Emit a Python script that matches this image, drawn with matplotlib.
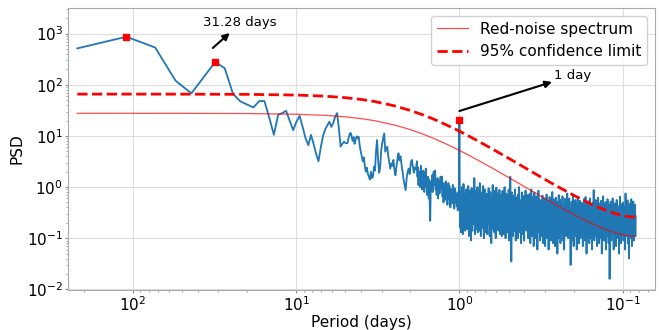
import numpy as np
import matplotlib
matplotlib.use("Agg")
import matplotlib.pyplot as plt

# ---------------- data ----------------
record_length_days = 219.0
harmonics_low = np.arange(1, 45)
psd_low = [515, 870, 535, 120, 68, 147, 280, 210, 66, 47,
           41, 36, 48, 48, 22.6, 10.5, 26, 28, 31, 20,
           13, 19, 24.6, 15, 9, 6.6, 10.5, 7, 4.5, 3.2,
           6, 10, 13.5, 16, 19, 15, 18, 24, 28, 14,
           6.2, 7, 7.7, 7.2]

# periods 4.85 -> 1.85 days
psd_mid_a = [7.2, 9.0, 10.5, 11.5, 10.0, 8.0, 9.5, 7.0, 8.5, 9.8,
             9.0, 9.6, 6.5, 5.0, 4.0, 3.2, 3.8, 2.6, 2.0, 2.4,
             1.8, 1.6, 1.4, 2.0, 1.5, 1.6, 2.5, 2.1, 5.0, 8.3,
             3.5, 1.9, 2.4, 5.0, 7.2, 9.0, 11.2, 4.9, 5.5, 6.2,
             4.0, 3.0, 2.3, 2.9, 2.6, 3.4, 2.2, 1.7, 2.5, 3.6,
             4.6, 3.3, 4.0, 2.7, 2.0, 1.4, 1.1, 0.87, 1.5, 2.0,
             2.3, 1.8, 2.9, 3.4, 2.6, 1.9, 2.4, 2.2]

# periods 1.82 -> 1.01 days
psd_mid_b = [3.2, 1.6, 2.4, 1.1, 2.0, 1.4, 1.0, 1.8, 2.6, 1.5,
             0.9, 1.7, 1.2, 2.1, 1.5, 0.8, 1.9, 1.3, 2.3, 1.0,
             1.2, 0.7, 1.6, 1.1, 0.6, 1.4, 0.45, 0.22, 0.9, 1.3,
             1.0, 1.7, 0.8, 1.4, 2.0, 1.1, 1.6, 2.1, 0.9, 1.3,
             0.7, 1.2, 1.5, 0.6, 0.87, 1.3, 0.75, 1.1, 1.6, 0.9,
             1.4, 1.6, 0.65, 1.0, 0.5, 1.2, 0.8, 0.56, 0.95, 1.3,
             0.7, 1.0, 0.45, 0.85, 1.2, 0.6, 1.05, 0.75, 0.4, 0.9,
             0.65, 0.48, 0.8, 1.1, 0.55, 0.7, 0.38, 0.95, 0.87, 0.5,
             0.75, 0.42, 0.6, 0.35, 0.8, 0.55]

spike_period = 1.0
spike_psd = 20.5

# periods 0.995 -> 0.0833 days
psd_high = [
    0.58, 0.16, 0.80, 0.36, 0.13, 0.45, 1.00, 0.25, 0.65, 0.12,
    0.40, 1.15, 0.31, 0.18, 0.72, 0.43, 0.14, 0.55, 0.27, 0.90,
    0.21, 0.49, 0.15, 0.75, 0.35, 1.05, 0.23, 0.11, 0.52, 0.30,
    0.86, 0.17, 0.61, 0.09, 0.39, 0.96, 0.26, 0.14, 0.68, 0.34,
    0.76, 0.19, 0.45, 1.50, 0.27, 0.12, 0.60, 0.36, 0.15, 0.85,
    0.42, 0.24, 1.00, 0.13, 0.51, 0.31, 0.71, 0.14, 0.37, 1.20,
    0.21, 0.55, 0.11, 0.46, 0.79, 0.26, 0.16, 0.62, 0.35, 1.05,
    0.20, 0.10, 0.49, 0.30, 0.90, 0.17, 0.57, 0.13, 0.40, 0.74,
    0.25, 0.12, 0.66, 0.39, 0.19, 0.95, 0.29, 0.54, 0.11, 0.44,
    0.80, 0.22, 0.34, 0.08, 0.61, 0.15, 0.47, 1.10, 0.27, 0.17,
    0.70, 0.37, 0.13, 0.84, 0.24, 0.51, 0.10, 0.41, 0.98, 0.31,
    0.16, 0.59, 0.26, 0.75, 0.14, 0.45, 0.21, 0.88, 0.35, 0.12,
    0.50, 0.19, 0.70, 0.29, 0.11, 0.44, 0.84, 0.16, 0.35, 0.61,
    0.12, 0.40, 1.00, 0.23, 0.54, 0.10, 0.32, 0.74, 0.18, 0.47,
    0.26, 0.13, 0.65, 0.36, 0.88, 0.20, 0.09, 0.53, 0.31, 1.60,
    0.24, 0.58, 0.035, 0.38, 0.79, 0.17, 0.48, 0.11, 0.68, 0.28,
    0.14, 0.53, 0.32, 0.90, 0.21, 0.09, 0.40, 0.63, 0.16, 0.47,
    0.25, 0.10, 0.72, 0.36, 0.20, 1.00, 0.29, 0.13, 0.55, 0.23,
    0.44, 0.08, 0.33, 0.79, 0.17, 0.49, 0.12, 0.39, 0.67, 0.22,
    0.09, 0.60, 0.30, 0.15, 0.86, 0.26, 0.46, 0.14, 0.35, 0.70,
    0.18, 0.41, 0.10, 0.55, 0.23, 0.73, 0.14, 0.33, 0.08, 0.48,
    0.28, 0.90, 0.17, 0.37, 0.11, 0.63, 0.21, 0.44, 0.07, 0.31,
    0.78, 0.15, 0.52, 0.24, 0.10, 0.40, 0.66, 0.20, 0.30, 0.06,
    0.46, 0.22, 0.85, 0.13, 0.36, 0.57, 0.18, 0.09, 0.43, 0.26,
    0.55, 0.11, 0.31, 0.18, 0.68, 0.26, 0.08, 0.41, 0.14, 0.35,
    0.60, 0.20, 0.07, 0.46, 0.24, 0.13, 0.72, 0.29, 0.10, 0.38,
    0.17, 0.53, 0.06, 0.32, 0.21, 0.64, 0.12, 0.43, 0.27, 0.09,
    0.49, 0.15, 0.36, 0.80, 0.19, 0.08, 0.40, 0.23, 0.58, 0.14,
    0.30, 0.07, 0.45, 0.19, 0.62, 0.12, 0.34, 0.24, 0.05, 0.51,
    0.16, 0.39, 0.70, 0.10, 0.28, 0.18, 0.57, 0.08, 0.36, 0.22,
    0.13, 0.48, 0.26, 0.66, 0.09, 0.31, 0.17, 0.42, 0.06, 0.25,
    0.59, 0.14, 0.37, 0.20, 0.11, 0.50, 0.29, 0.75, 0.15, 0.33,
    0.10, 0.44, 0.21, 0.60, 0.13, 0.32, 0.18, 0.03, 0.38, 0.24,
    0.52, 0.09, 0.29, 0.16, 0.67, 0.22, 0.07, 0.41, 0.14, 0.35,
    0.20, 0.56, 0.11, 0.27, 0.47, 0.06, 0.33, 0.17, 0.62, 0.12,
    0.30, 0.19, 0.08, 0.45, 0.25, 0.54, 0.10, 0.36, 0.15, 0.28,
    0.49, 0.12, 0.26, 0.07, 0.40, 0.18, 0.58, 0.14, 0.31, 0.09,
    0.22, 0.64, 0.16, 0.35, 0.05, 0.28, 0.46, 0.11, 0.20, 0.53,
    0.13, 0.37, 0.08, 0.24, 0.60, 0.17, 0.30, 0.10, 0.43, 0.19,
    0.06, 0.34, 0.21, 0.50, 0.12, 0.87, 0.23, 0.09, 0.39, 0.15,
    0.27, 0.56, 0.11, 0.33, 0.17, 0.07, 0.42, 0.21, 0.62, 0.13,
    0.29, 0.08, 0.48, 0.19, 0.36, 0.10, 0.25, 0.54, 0.15, 0.05,
    0.38, 0.22, 0.12, 0.66, 0.18, 0.31, 0.09, 0.44, 0.24, 0.14,
    0.51, 0.06, 0.28, 0.20, 0.40, 0.11, 0.58, 0.16, 0.34, 0.08,
    0.23, 0.45, 0.016, 0.30, 0.14, 0.52, 0.19, 0.09, 0.37, 0.25,
    0.12, 0.60, 0.17, 0.32, 0.06, 0.41, 0.21, 0.11, 0.48, 0.15,
    0.28, 0.07, 0.35, 0.56, 0.13, 0.24, 0.43, 0.10, 0.31, 0.18,
    0.05, 0.39, 0.22, 0.65, 0.14, 0.27, 0.08, 0.46, 0.20, 0.12,
    0.34, 0.17, 0.50, 0.09, 0.26, 0.13, 0.40, 0.21, 0.06, 0.75,
    0.19, 0.30, 0.11, 0.44, 0.15, 0.55, 0.08, 0.28, 0.18, 0.04,
    0.36, 0.14, 0.47, 0.23, 0.10, 0.32, 0.58, 0.16, 0.07, 0.39,
    0.20, 0.12, 0.52, 0.25, 0.09, 0.33, 0.17, 0.45, 0.11, 0.27,
]

# red-noise background and its 95% limit
rn_period = [219, 100, 50, 20, 10, 6.67, 5, 4, 3.33, 2.5, 2, 1.667, 1.429,
             1.176, 1.0, 0.870, 0.769, 0.625, 0.556, 0.5, 0.444, 0.4, 0.333,
             0.286, 0.25, 0.222, 0.2, 0.1667, 0.1429, 0.125, 0.1111, 0.1,
             0.0909, 0.0833]
rn_psd = [27.71, 27.70, 27.66, 27.41, 26.55, 25.24, 23.61, 21.80, 19.93,
          16.36, 13.30, 10.82, 8.88, 6.72, 5.21, 4.14, 3.35, 2.32, 1.87,
          1.54, 1.24, 1.02, 0.727, 0.548, 0.431, 0.350, 0.292, 0.217,
          0.173, 0.145, 0.128, 0.117, 0.111, 0.109]
conf95_psd = [65.7, 65.7, 65.6, 65.0, 63.0, 59.9, 56.0, 51.7, 47.3, 38.8,
              31.5, 25.7, 21.1, 15.9, 12.4, 9.81, 7.95, 5.50, 4.44, 3.66,
              2.94, 2.42, 1.72, 1.30, 1.02, 0.830, 0.693, 0.515, 0.410,
              0.344, 0.303, 0.277, 0.263, 0.258]

peak_period = [record_length_days / 2, record_length_days / 7, spike_period]
peak_psd = [870, 280, spike_psd]

# ---------------- assemble period grid ----------------
period_low = record_length_days / harmonics_low
period_mid_a = np.geomspace(4.85, 1.849, len(psd_mid_a))
period_mid_b = np.geomspace(1.82, 1.01, len(psd_mid_b))
period_high = np.geomspace(0.995, 0.0833, len(psd_high))
period = np.concatenate([period_low, period_mid_a, period_mid_b,
                         [spike_period], period_high])
psd = np.concatenate([psd_low, psd_mid_a, psd_mid_b, [spike_psd], psd_high])

# ---------------- plot ----------------
fig = plt.figure(figsize=(6.59, 3.30), dpi=100)
ax = fig.add_axes([0.103, 0.121, 0.891, 0.855])

ax.plot(period, psd, color="#1f77b4", lw=1.3, zorder=2)
ax.plot(rn_period, rn_psd, color="red", lw=0.9, alpha=0.7,
        label="Red-noise spectrum", zorder=3)
ax.plot(rn_period, conf95_psd, color="red", lw=2.0, ls="--",
        label="95% confidence limit", zorder=3)
ax.plot(peak_period, peak_psd, ls="none", marker="s", ms=5,
        color="red", zorder=4)

ax.set_xscale("log")
ax.set_yscale("log")
ax.set_xlim(250, 0.0634)
ax.set_ylim(10 ** -2.014, 10 ** 3.503)

ax.grid(True, which="major", color="#dddddd", lw=0.8)
for s in ax.spines.values():
    s.set_color("#aaaaaa")
ax.tick_params(which="major", length=2, width=0.8, pad=1.5,
               colors="#888888", labelcolor="black", labelsize=11)
ax.tick_params(which="minor", length=1.5, width=0.6, colors="#999999")

ax.set_xlabel("Period (days)", fontsize=11, labelpad=1)
ax.set_ylabel("PSD", fontsize=11, labelpad=2)

# annotations
ax.annotate("", xy=(25.5, 1030), xytext=(32.4, 525),
            arrowprops=dict(arrowstyle="-|>", color="black", lw=1.5,
                            mutation_scale=10, shrinkA=0, shrinkB=0))
ax.text(22.2, 1660, "31.28 days", ha="center", va="center", fontsize=9.5)
ax.annotate("", xy=(0.271, 113.5), xytext=(1.0, 30.7),
            arrowprops=dict(arrowstyle="-|>", color="black", lw=1.5,
                            mutation_scale=10, shrinkA=0, shrinkB=0))
ax.text(0.262, 150, "1 day", ha="left", va="center", fontsize=9.5)

ax.legend(loc="upper right", fontsize=11, framealpha=0.9)

fig.savefig("out.png", dpi=100)
